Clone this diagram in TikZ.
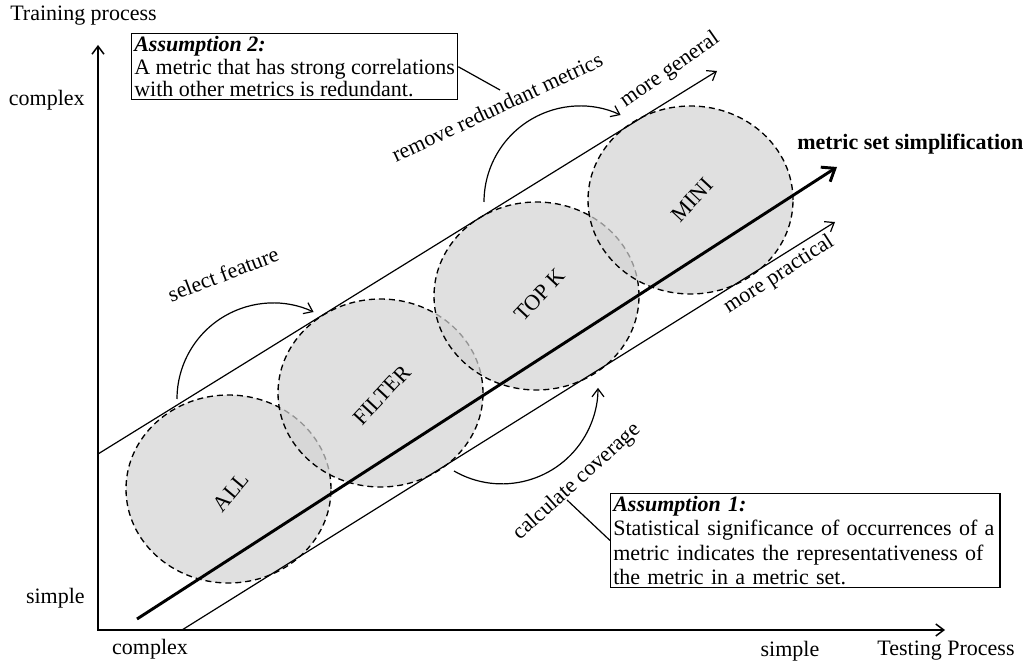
\documentclass[tikz,border=0pt]{standalone}
\usepackage{fontspec}
\setmainfont{Liberation Serif}
\usetikzlibrary{arrows.meta}
\definecolor{cfill}{RGB}{211,211,211}
\begin{document}
\begin{tikzpicture}[x=0.75pt,y=0.75pt,
  every node/.style={font=\fontsize{16.5}{19}\selectfont, inner sep=0pt},
  thinline/.style={line width=0.9pt},
  barb/.style={-{Straight Barb[length=6pt,width=9pt]}},
  blob/.style={draw=black, line width=1pt, dash pattern=on 4.5pt off 3pt, fill=cfill, fill opacity=0.7},
  boxnote/.style={draw, line width=0.9pt, anchor=north west, align=left, inner xsep=2pt, inner ysep=2pt}
  ]
\useasboundingbox (0,0) rectangle (1031,664);
% circles
\path[blob] (228.5,175) ellipse [x radius=102.5, y radius=94];
\path[blob] (380.5,271) ellipse [x radius=102.5, y radius=94];
\path[blob] (536.5,368) ellipse [x radius=102.5, y radius=94];
\path[blob] (690.5,464) ellipse [x radius=102.5, y radius=94];
% circle labels
\node[rotate=50] (all) at (231,172) {ALL};
\node[rotate=47] (filter) at (382,269) {FILTER};
\node[rotate=47] (topk) at (540,369) {TOP K};
\node[rotate=47] (mini) at (692,464) {MINI};
% axes
\coordinate (O) at (98,34);
\coordinate (ytip) at (98,619);
\coordinate (xtip) at (945,34);
\draw[line width=1.1pt, {Straight Barb[length=6pt,width=9pt]}-{Straight Barb[length=6pt,width=9pt]}] (ytip) -- (O) -- (xtip);
% parallel lines
\coordinate (u0) at (98,210);
\coordinate (u1) at (717,593);
\draw[thinline, barb] (u0) -- (u1);
\coordinate (l0) at (182,34);
\coordinate (l1) at (835,442);
\draw[thinline, barb] (l0) -- (l1);
\coordinate (m0) at (137,45);
\coordinate (m1) at (837,497);
\draw[line width=2.2pt, -{Straight Barb[length=8.5pt,width=13pt]}] (m0) -- (m1);
% curved arrows
\coordinate (sf0) at (177,265);
\draw[thinline, barb] (sf0) arc[start angle=180, end angle=65, radius=96];
\coordinate (rr0) at (484,462);
\draw[thinline, barb] (rr0) arc[start angle=180, end angle=65, radius=96];
\coordinate (cc0) at (454,193);
\draw[thinline, barb] (cc0) arc[start angle=-120, end angle=0, radius=96];
% axis labels
\node[anchor=west] (tp) at (10,648) {Training process};
\node[anchor=east] (ycx) at (85,564) {complex};
\node[anchor=east] (ysm) at (85,66) {simple};
\node (xcx) at (150,15) {complex};
\node (xsm) at (790,13) {simple};
\node (tproc) at (946,13) {Testing Process};
\node[anchor=west, font=\fontsize{16.5}{19}\selectfont\bfseries] (mss) at (797,520) {metric set simplification};
% notes
\node[boxnote, font=\fontsize{16.5}{17}\selectfont] (a2) at (131,631) {\textbf{\textit{Assumption 2:}}\\A metric that has strong correlations\\with other metrics is redundant.};
\node[boxnote, font=\fontsize{16.5}{18.2}\selectfont, text width=288pt] (a1) at (610,171) {\textbf{\textit{Assumption 1:}}\\Statistical significance of occurrences of a\\metric indicates the representativeness of\\the metric in a metric set.};
\coordinate (a2end) at (500,574);
\draw[thinline] (a2.east) -- (a2end);
\coordinate (a1start) at (567,164);
\draw[thinline] (a1start) -- (a1.west);
% rotated labels
\node[rotate=21] (sfl) at (223,390) {select feature};
\node[rotate=25] (rrl) at (497,557) {remove redundant metrics};
\node[rotate=35] (mgl) at (670,594) {more general};
\node[rotate=33] (mpl) at (779,389) {more practical};
\node[rotate=42] (ccl) at (577,182) {calculate coverage};
\end{tikzpicture}
\end{document}
